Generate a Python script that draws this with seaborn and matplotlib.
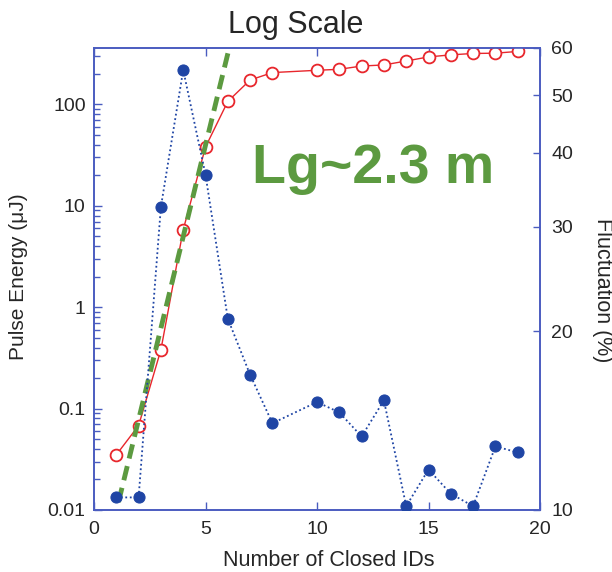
import matplotlib
matplotlib.use("Agg")
import matplotlib.pyplot as plt
import seaborn as sns
import pandas as pd
import numpy as np
from matplotlib.ticker import FixedLocator, NullLocator, LogLocator, NullFormatter, FuncFormatter

sns.set_style("white")
plt.rcParams['font.family'] = ['Liberation Sans', 'DejaVu Sans']

# ---- data ----
closed_ids = [1, 2, 3, 4, 5, 6, 7, 8, 10, 11, 12, 13, 14, 15, 16, 17, 18, 19]
pulse_energy = [0.035, 0.068, 0.38, 5.8, 38, 107, 174, 206, 217, 222, 239, 245,
                268, 294, 308, 318, 320, 333]
fluctuation = [10.5, 10.5, 32.4, 55.1, 36.7, 21.0, 16.9, 14.0, 15.2, 14.6, 13.3,
               15.3, 10.15, 11.7, 10.65, 10.15, 12.8, 12.5]
fit_x = [1.1, 6.6]
fit_y = [0.012, 1100]

x_ticks = [0, 5, 10, 15, 20]
left_ticks = [0.01, 0.1, 1, 10, 100]
left_ticklabels = ["0.01", "0.1", "1", "10", "100"]
right_ticks = [10, 20, 30, 40, 50, 60]

df_e = pd.DataFrame({"ids": closed_ids, "energy": pulse_energy})
df_f = pd.DataFrame({"ids": closed_ids, "fluct": fluctuation})
df_fit = pd.DataFrame({"ids": fit_x, "energy": fit_y})

RED = "#e8262c"
BLUE = "#1f45a5"
GREEN = "#5c9a40"
SPINE = "#4a5cc0"

fig = plt.figure(figsize=(6.12, 5.72), dpi=100)
ax = fig.add_axes([94/612, 1-510/572, (540-94)/612, (510-48)/572])
ax2 = ax.twinx()

ax.set_yscale("log")
ax2.set_yscale("log")

sns.lineplot(data=df_f, x="ids", y="fluct", ax=ax2, color=BLUE, linestyle=(0, (1, 1.5)),
             linewidth=1.3, marker="o", markersize=8, markerfacecolor=BLUE,
             markeredgecolor=BLUE, zorder=3)
sns.lineplot(data=df_e, x="ids", y="energy", ax=ax, color=RED, linewidth=1.0,
             marker="o", markersize=8.5, markerfacecolor="white",
             markeredgecolor=RED, markeredgewidth=1.3, zorder=4)
sns.lineplot(data=df_fit, x="ids", y="energy", ax=ax, color=GREEN, linewidth=3.5,
             linestyle=(0, (3, 1.6)), zorder=5)

ax.set_xlim(0, 20)
ax.set_ylim(0.01, 360)
ax2.set_ylim(10, 60)

ax.set_xticks(x_ticks)
ax.set_xticklabels([str(t) for t in x_ticks])
ax.yaxis.set_major_locator(FixedLocator(left_ticks))
ax.set_yticklabels(left_ticklabels)
ax.yaxis.set_minor_locator(LogLocator(base=10, subs=np.arange(2, 10)))
ax.yaxis.set_minor_formatter(NullFormatter())

ax2.yaxis.set_major_locator(FixedLocator(right_ticks))
ax2.yaxis.set_major_formatter(FuncFormatter(lambda v, p: f"{v:g}"))
ax2.yaxis.set_minor_locator(NullLocator())

ax.tick_params(axis="x", which="major", direction="in", length=6, width=1, color=SPINE,
               top=True, bottom=True, labelsize=14, pad=8)
ax.tick_params(axis="y", which="major", direction="in", length=6, width=1, color=SPINE,
               left=True, right=False, labelsize=14, pad=6)
ax.tick_params(axis="y", which="minor", direction="in", length=4, width=1, color=SPINE,
               left=True, right=False)
ax2.tick_params(axis="y", which="major", direction="in", length=5, width=1, color=SPINE,
                right=True, labelsize=14, pad=8)

for a in (ax, ax2):
    for s in a.spines.values():
        s.set_color(SPINE)
        s.set_linewidth(1.2)

ax.set_xlabel("")
ax.set_ylabel("")
ax2.set_ylabel("")
fig.text(329/612, 1-561/572, "Number of Closed IDs", fontsize=15.5, ha="center", va="center")
fig.text(19/612, 1-277/572, "Pulse Energy (\u03bcJ)", fontsize=15, rotation=90,
         ha="center", va="center")
fig.text(602/612, 1-290/572, "Fluctuation (%)", fontsize=15.5, rotation=270,
         ha="center", va="center")
fig.text(296/612, 1-25/572, "Log Scale", fontsize=22, ha="center", va="center")

ax.text(0.355, 0.738, "Lg~2.3 m", transform=ax.transAxes, color=GREEN,
        fontsize=40, fontweight="bold", ha="left", va="center", zorder=6)

fig.savefig("out.png", dpi=100)
